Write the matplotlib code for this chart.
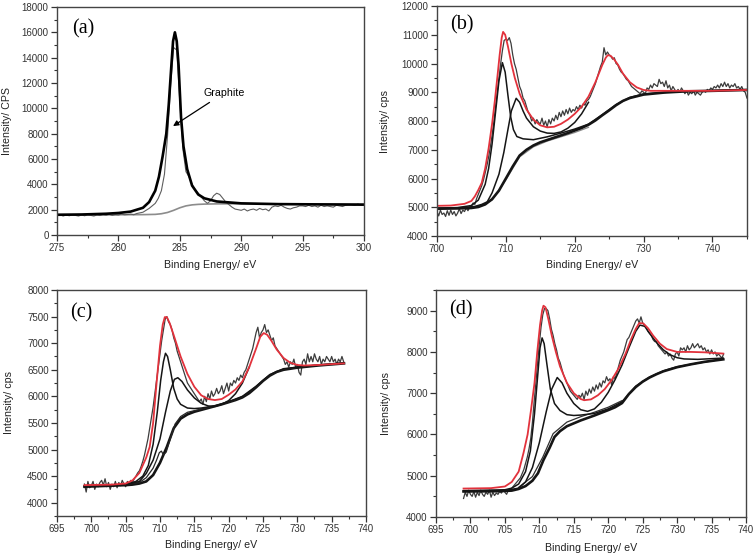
import numpy as np
import matplotlib.pyplot as plt
from matplotlib.ticker import MultipleLocator

plt.rcParams['font.family'] = ['Liberation Sans', 'DejaVu Sans']

# ---------------- (a) C 1s ----------------
a_data_x = np.linspace(275, 300, 101)
a_data_y = [1550, 1600, 1500, 1580, 1520, 1600, 1550, 1500, 1580, 1520, 1600, 1550,
            1500, 1580, 1540, 1600, 1560, 1620, 1550, 1600, 1580, 1650, 1600, 1620,
            1650, 1600, 1700, 1750, 1800, 1950, 2100, 2300, 2500, 2900, 3500, 4800,
            7800, 11800, 14800, 14600, 10500, 6800, 5000, 4600, 4000, 3600, 3300, 3000,
            2700, 2500, 2700, 3100, 3300, 3200, 2900, 2600, 2400, 2200, 2050, 2000,
            1950, 2050, 1900, 2000, 2050, 1950, 2100, 2000, 2050, 1900, 2200, 2300,
            2250, 2350, 2200, 2100, 2050, 2150, 2200, 2300, 2300, 2250, 2350, 2250,
            2300, 2200, 2350, 2250, 2300, 2250, 2200, 2350, 2300, 2250, 2350, 2400,
            2400, 2350, 2450, 2350, 2400]
a_fit_x = [275, 277, 279, 280, 281, 282, 282.5, 283, 283.3, 283.6, 283.9, 284.1, 284.3,
           284.45, 284.6, 284.75, 284.9, 285.1, 285.3, 285.6, 286, 286.5, 287, 288, 290,
           293, 296, 300]
a_fit_y = [1600, 1620, 1680, 1740, 1850, 2150, 2600, 3500, 4600, 6200, 8000, 10300, 13200,
           15300, 16000, 15300, 13400, 9300, 7000, 5200, 3900, 3200, 2900, 2650, 2500,
           2440, 2420, 2400]
a_bg_x = [275, 280, 282, 283, 283.5, 284, 284.5, 285, 285.5, 286, 286.5, 287, 288, 290, 295, 300]
a_bg_y = [1600, 1600, 1610, 1630, 1680, 1780, 1950, 2150, 2300, 2380, 2420, 2440, 2460,
          2470, 2440, 2410]

# ---------------- (b) ----------------
b_data_x = np.linspace(700, 745, 181)
b_data_y = [4850, 4700, 4900, 4750, 4800, 4680, 4880, 4720, 4900, 4750, 4850, 4700,
            4800, 4950, 4780, 4900, 4850, 4980, 4880, 5000, 5050, 5150, 5100, 5300,
            5450, 5600, 5750, 5950, 6200, 6450, 6750, 7100, 7500, 7950, 8500, 9000,
            9500, 10000, 10450, 10800, 10850, 10800, 10900, 10700, 10300, 10000, 9800, 9500,
            9200, 9050, 8800, 8700, 8500, 8300, 8200, 8000, 8100, 7900, 8050, 7950,
            7900, 8100, 7850, 8000, 7800, 8050, 7900, 8100, 8000, 8200, 8050, 8300,
            8150, 8350, 8200, 8400, 8250, 8450, 8300, 8400, 8350, 8500, 8400, 8550,
            8450, 8600, 8550, 8700, 8750, 8850, 9000, 9150, 9300, 9500, 9700, 9900,
            10050, 10550, 10300, 10400, 10300, 10250, 10150, 10200, 10000, 9950, 9800, 9700,
            9650, 9550, 9450, 9400, 9300, 9200, 9150, 9100, 9050, 9000, 8950, 9050,
            9000, 8950, 9150, 9100, 9250, 9150, 9300, 9250, 9200, 9450, 9300, 9350,
            9200, 9400, 9150, 9250, 9050, 9200, 9100, 9000, 9100, 9000, 9150, 9050,
            8950, 9050, 8900, 9000, 8950, 9050, 8900, 9000, 8950, 8900, 9000, 9050,
            9000, 9100, 9050, 9150, 9100, 9200, 9150, 9250, 9150, 9300, 9200, 9350,
            9200, 9300, 9150, 9250, 9200, 9300, 9150, 9200, 9100, 9200, 9050, 9000,
            8800]
b_fit_x = [700, 702, 704, 705, 705.5, 706, 706.5, 707, 707.5, 708, 708.4, 708.8, 709.1,
           709.4, 709.6, 709.9, 710.3, 710.8, 711.3, 712, 713, 714, 715, 716, 717, 718,
           719, 720, 721, 722, 723, 723.5, 724, 724.5, 724.8, 725.2, 725.7, 726.3, 727,
           728, 729, 730, 731, 733, 736, 740, 745]
b_fit_y = [5050, 5060, 5120, 5220, 5380, 5600, 5850, 6350, 7050, 7900, 8700, 9600, 10300,
           10900, 11100, 11000, 10600, 10000, 9500, 8950, 8400, 8050, 7850, 7780, 7800, 7900,
           8050, 8250, 8500, 8850, 9350, 9650, 9950, 10200, 10290, 10270, 10150, 9950, 9650,
           9350, 9170, 9080, 9050, 9050, 9050, 9050, 9080]
b_c1_x = [700, 703, 705, 706, 707, 707.5, 708, 708.5, 709, 709.5, 709.9, 710.3, 710.7,
          711.1, 711.6, 712.5, 714, 716, 718, 720, 722, 724, 726, 728, 730, 735, 740, 745]
b_c1_y = [4970, 4990, 5060, 5250, 5800, 6350, 7200, 8300, 9400, 10030, 9700, 8900, 8150,
          7700, 7460, 7380, 7350, 7450, 7580, 7720, 7890, 8220, 8570, 8820, 8940, 9030,
          9060, 9090]
b_c2_x = [700, 704, 705.5, 706.5, 707.3, 708, 709, 709.7, 710.3, 710.8, 711.5, 712, 712.5,
          713, 714, 715, 716, 717, 718, 719, 720, 721, 722]
b_c2_y = [4960, 4990, 5030, 5100, 5190, 5500, 6150, 6900, 7700, 8350, 8790, 8650, 8350,
          8100, 7800, 7650, 7580, 7570, 7620, 7750, 7950, 8250, 8650]
b_bg_x = [700, 703, 705, 706, 707, 708, 709, 710, 711, 712, 713, 714, 715, 717, 719, 721,
          722, 723, 724, 725, 726, 727, 728, 729, 730, 733, 736, 740, 745]
b_bg_y = [4950, 4960, 4975, 5010, 5100, 5280, 5580, 6000, 6420, 6800, 7000, 7150, 7260,
          7420, 7580, 7760, 7870, 8020, 8200, 8370, 8550, 8700, 8800, 8860, 8920, 8990,
          9030, 9050, 9080]
b_bg2_x = [706, 708, 710, 712, 714, 716, 718, 720, 722]
b_bg2_y = [5000, 5250, 5950, 6750, 7100, 7300, 7450, 7600, 7780]

# ---------------- (c) ----------------
c_data_x = np.linspace(699, 736.75, 152)
c_data_y = [4350, 4200, 4400, 4280, 4320, 4400, 4250, 4350, 4300, 4380, 4420, 4330,
            4450, 4300, 4380, 4250, 4350, 4300, 4400, 4280, 4380, 4320, 4420, 4350,
            4300, 4400, 4350, 4420, 4380, 4450, 4500, 4560, 4600, 4680, 4780, 4900,
            5050, 5200, 5400, 5600, 5800, 6050, 6300, 6550, 6800, 7050, 7250, 7450,
            7500, 7400, 7350, 7250, 7100, 7000, 6850, 6750, 6650, 6550, 6450, 6350,
            6250, 6200, 6150, 6100, 6050, 6000, 5950, 5900, 5950, 5850, 6000, 5900,
            6050, 5950, 6100, 6000, 6050, 6150, 6050, 6100, 6200, 6050, 6150, 6250,
            6100, 6250, 6200, 6300, 6250, 6350, 6300, 6400, 6350, 6450, 6500, 6600,
            6700, 6800, 6900, 7050, 7200, 7300, 7100, 7200, 7250, 7350, 7200, 7250,
            7150, 7050, 7100, 6950, 6900, 6850, 6800, 6750, 6700, 6600, 6650, 6550,
            6650, 6600, 6700, 6550, 6600, 6450, 6400, 6650, 6700, 6600, 6800, 6650,
            6750, 6650, 6800, 6700, 6650, 6750, 6600, 6700, 6650, 6750, 6700, 6650,
            6750, 6650, 6700, 6600, 6700, 6650, 6750, 6650]
c_fit_x = [699, 703, 705, 706, 707, 708, 708.5, 709, 709.5, 710, 710.4, 710.7, 711, 711.4,
           712, 712.5, 713, 714, 715, 716, 717, 718, 719, 720, 721, 722, 723, 724, 724.6,
           725.1, 725.6, 726.2, 727, 728, 729, 730, 731, 733, 736.8]
c_fit_y = [4330, 4340, 4360, 4420, 4560, 4850, 5050, 5500, 6250, 6950, 7350, 7490, 7490,
           7380, 7150, 6950, 6750, 6420, 6180, 6020, 5950, 5930, 5950, 6030, 6130, 6280,
           6550, 6900, 7120, 7190, 7160, 7050, 6880, 6720, 6630, 6590, 6580, 6590, 6620]
c_c1_x = [699, 705, 706.5, 707.5, 708.3, 709, 709.6, 710.1, 710.5, 710.8, 711.1, 711.5,
          712, 712.5, 713, 714, 715, 716, 718, 720, 722, 724, 726, 728, 732, 736.8]
c_c1_y = [4320, 4340, 4400, 4500, 4700, 5100, 5700, 6300, 6650, 6810, 6750, 6500, 6150,
          5950, 5850, 5780, 5770, 5780, 5820, 5900, 6000, 6190, 6410, 6520, 6575, 6630]
c_c2_x = [699, 705, 707, 708, 709, 710, 710.8, 711.5, 712.1, 712.6, 713.2, 714, 715, 716,
          717, 718, 719, 720, 721, 722, 723]
c_c2_y = [4310, 4340, 4400, 4550, 4800, 5200, 5700, 6100, 6320, 6350, 6280, 6120, 5970,
          5870, 5820, 5810, 5850, 5920, 6050, 6250, 6550]
c_c3_x = [699, 705, 707, 708, 709, 709.5, 709.9, 710.2, 710.5, 710.9, 711.5, 712.2, 713,
          714, 716, 718, 720, 722, 724, 726, 728, 732, 736.8]
c_c3_y = [4310, 4340, 4380, 4470, 4650, 4800, 4940, 4970, 4900, 4950, 5200, 5480, 5620,
          5700, 5760, 5820, 5890, 5990, 6180, 6400, 6510, 6570, 6625]
c_bg_x = [699, 703, 705, 706, 707, 708, 709, 710, 711, 712, 713, 714, 715, 717, 719, 721,
          722, 723, 724, 725, 726, 727, 728, 730, 733, 736.8]
c_bg_y = [4300, 4320, 4330, 4340, 4360, 4400, 4520, 4750, 5050, 5400, 5580, 5660, 5710,
          5780, 5850, 5930, 5980, 6060, 6170, 6290, 6390, 6460, 6500, 6540, 6580, 6620]

# ---------------- (d) ----------------
d_data_x = np.linspace(699, 736.75, 152)
d_data_y = [4450, 4600, 4500, 4650, 4550, 4500, 4620, 4480, 4600, 4520, 4650, 4550,
            4500, 4600, 4550, 4650, 4480, 4600, 4520, 4580, 4550, 4620, 4580, 4650,
            4600, 4550, 4650, 4620, 4700, 4750, 4800, 4850, 4900, 4950, 5050, 5150,
            5300, 5450, 5650, 5900, 6300, 6800, 7250, 7750, 8200, 8600, 8900, 9050,
            9050, 9000, 8800, 8550, 8400, 8200, 8050, 7850, 7750, 7600, 7450, 7350,
            7250, 7150, 7050, 7000, 6950, 6900, 6850, 6950, 6900, 7000, 6850, 7050,
            6950, 7100, 7000, 7150, 7050, 7200, 7100, 7250, 7150, 7300, 7250, 7400,
            7300, 7350, 7200, 7400, 7350, 7500, 7650, 7800, 7900, 8000, 8150, 8300,
            8350, 8450, 8550, 8650, 8750, 8800, 8700, 8850, 8700, 8650, 8600, 8500,
            8450, 8400, 8300, 8250, 8250, 8150, 8100, 8050, 8000, 7950, 8000, 7900,
            7950, 7850, 7800, 7950, 8000, 7900, 8100, 8050, 8100, 8000, 8150, 8050,
            8100, 8200, 8100, 8150, 8200, 8100, 8150, 8050, 8100, 8000, 8050, 7950,
            8050, 7950, 8000, 7900, 7950, 7900, 7850, 7950]
d_fit_x = [699, 703, 705, 706, 707, 707.7, 708.3, 708.8, 709.3, 709.7, 710.1, 710.4, 710.6,
           710.9, 711.3, 711.8, 712.4, 713, 714, 715, 716, 716.5, 717.5, 718.5, 719.5,
           720.5, 721.5, 722.5, 723.3, 724, 724.5, 725.1, 725.8, 726.5, 727.5, 728.5, 730,
           732, 734, 736.7]
d_fit_y = [4690, 4700, 4740, 4850, 5100, 5550, 6000, 6600, 7250, 8000, 8650, 9000, 9120,
           9080, 8800, 8400, 8000, 7650, 7250, 7000, 6860, 6830, 6850, 6950, 7100, 7320,
           7600, 7950, 8300, 8560, 8700, 8690, 8570, 8400, 8200, 8070, 8000, 8000, 7990,
           7960]
d_c1_x = [699, 705, 706, 707, 708, 708.7, 709.3, 709.8, 710.1, 710.4, 710.7, 711.1, 711.6,
          712.2, 713, 714, 715, 716, 717, 718, 720, 722, 724, 726, 728, 730, 733, 736.7]
d_c1_y = [4640, 4660, 4700, 4800, 5100, 5600, 6500, 7500, 8100, 8340, 8200, 7700, 7100,
          6750, 6580, 6480, 6460, 6470, 6490, 6510, 6620, 6790, 7170, 7390, 7540, 7640,
          7730, 7830]
d_c2_x = [699, 705, 707, 708, 709, 710, 711, 711.8, 712.6, 713.3, 714, 715, 716, 717, 718,
          719, 720, 721, 722, 723, 724, 724.6, 725.3, 726, 727, 728, 729, 730, 731, 733,
          736.7]
d_c2_y = [4620, 4640, 4700, 4850, 5200, 5800, 6550, 7100, 7380, 7250, 7000, 6750, 6600,
          6560, 6620, 6780, 7020, 7330, 7680, 8100, 8500, 8650, 8620, 8450, 8230, 8050,
          7930, 7860, 7830, 7820, 7850]
d_bg_x = [699, 704, 706, 707, 708, 709, 709.8, 710.6, 711.5, 712.2, 713, 714, 715, 716,
          718, 720, 721, 722, 723, 724, 725, 726, 727, 728, 730, 732, 734, 736.7]
d_bg_y = [4620, 4625, 4640, 4680, 4750, 4880, 5060, 5380, 5680, 5940, 6080, 6200, 6270,
          6340, 6460, 6590, 6660, 6760, 6980, 7150, 7280, 7380, 7460, 7530, 7630, 7700,
          7760, 7820]
d_bg2_x = [707, 709, 710.5, 712, 714, 716, 718, 720, 722]
d_bg2_y = [4720, 4980, 5450, 6020, 6300, 6430, 6540, 6660, 6820]

RED = '#e2323c'
DATA = '#3c3c3c'

fig = plt.figure(figsize=(7.56, 5.56), dpi=100)
ax_a = fig.add_axes([0.0754, 0.5773, 0.4061, 0.4101])
ax_b = fig.add_axes([0.578, 0.5755, 0.410, 0.4137])
ax_c = fig.add_axes([0.0754, 0.0720, 0.4087, 0.4064])
ax_d = fig.add_axes([0.5767, 0.0701, 0.4101, 0.4083])


def style(ax, xlim, ylim, xmaj, ymaj, ylabel, label, lab_pos, ylab_x, xlab_y):
    ax.set_xlim(*xlim)
    ax.set_ylim(*ylim)
    ax.xaxis.set_major_locator(MultipleLocator(xmaj))
    ax.xaxis.set_minor_locator(MultipleLocator(xmaj / 2))
    ax.yaxis.set_major_locator(MultipleLocator(ymaj))
    ax.yaxis.set_minor_locator(MultipleLocator(ymaj / 2))
    ax.tick_params(which='both', direction='out', colors='#333333', labelsize=7, pad=2)
    ax.tick_params(which='major', length=4, width=0.9)
    ax.tick_params(which='minor', length=2.5, width=0.8)
    for s in ax.spines.values():
        s.set_color('#444444')
        s.set_linewidth(1.0)
    ax.set_xlabel('Binding Energy/ eV', fontsize=7.7, color='#222222')
    ax.set_ylabel(ylabel, fontsize=7.7, color='#222222')
    ax.yaxis.set_label_coords(ylab_x, 0.5)
    ax.xaxis.set_label_coords(0.5, xlab_y)
    ax.text(lab_pos[0], lab_pos[1], label, transform=ax.transAxes, ha='left', va='center',
            fontsize=14.5, family='Liberation Serif')


# (a)
ax_a.plot(a_bg_x, a_bg_y, color='#8c8c8c', lw=1.2)
ax_a.plot(a_data_x, a_data_y, color='#5e5e5e', lw=0.8)
ax_a.plot(a_fit_x, a_fit_y, color='black', lw=1.9)
ax_a.annotate('Graphite', xy=(284.45, 8600), xytext=(286.9, 11200), fontsize=7.7,
              va='center', ha='left',
              arrowprops=dict(arrowstyle='-|>', color='black', lw=0.9,
                              mutation_scale=8, shrinkA=2, shrinkB=0))
style(ax_a, (275, 300), (0, 18000), 5, 2000, 'Intensity/ CPS', '(a)', (0.048, 0.905),
      -0.145, -0.11)

# (b)
ax_b.plot(b_data_x, b_data_y, color=DATA, lw=0.9)
ax_b.plot(b_bg2_x, b_bg2_y, color='#8a8a8a', lw=0.9)
ax_b.plot(b_bg_x, b_bg_y, color='#151515', lw=1.9)
ax_b.plot(b_c1_x, b_c1_y, color='#151515', lw=1.1)
ax_b.plot(b_c2_x, b_c2_y, color='#151515', lw=1.1)
ax_b.plot(b_fit_x, b_fit_y, color=RED, lw=1.3)
style(ax_b, (700, 745), (4000, 12000), 10, 1000, 'Intensity/ cps', '(b)', (0.041, 0.919),
      -0.15, -0.104)

# (c)
ax_c.plot(c_data_x, c_data_y, color=DATA, lw=0.9)
ax_c.plot(c_bg_x, c_bg_y, color='#151515', lw=1.9)
ax_c.plot(c_c3_x, c_c3_y, color='#252525', lw=0.9)
ax_c.plot(c_c1_x, c_c1_y, color='#151515', lw=1.1)
ax_c.plot(c_c2_x, c_c2_y, color='#151515', lw=1.1)
ax_c.plot(c_fit_x, c_fit_y, color=RED, lw=1.3)
style(ax_c, (695, 740), (3750, 8000), 5, 500, 'Intensity/ cps', '(c)', (0.042, 0.898),
      -0.14, -0.106)

# (d)
ax_d.plot(d_data_x, d_data_y, color=DATA, lw=0.9)
ax_d.plot(d_bg2_x, d_bg2_y, color='#303030', lw=0.9)
ax_d.plot(d_bg_x, d_bg_y, color='#151515', lw=1.9)
ax_d.plot(d_c1_x, d_c1_y, color='#151515', lw=1.1)
ax_d.plot(d_c2_x, d_c2_y, color='#151515', lw=1.1)
ax_d.plot(d_fit_x, d_fit_y, color=RED, lw=1.3)
style(ax_d, (695, 740), (4000, 9500), 5, 1000, 'Intensity/ cps', '(d)', (0.041, 0.912),
      -0.145, -0.115)

fig.savefig('out.png', dpi=100)
